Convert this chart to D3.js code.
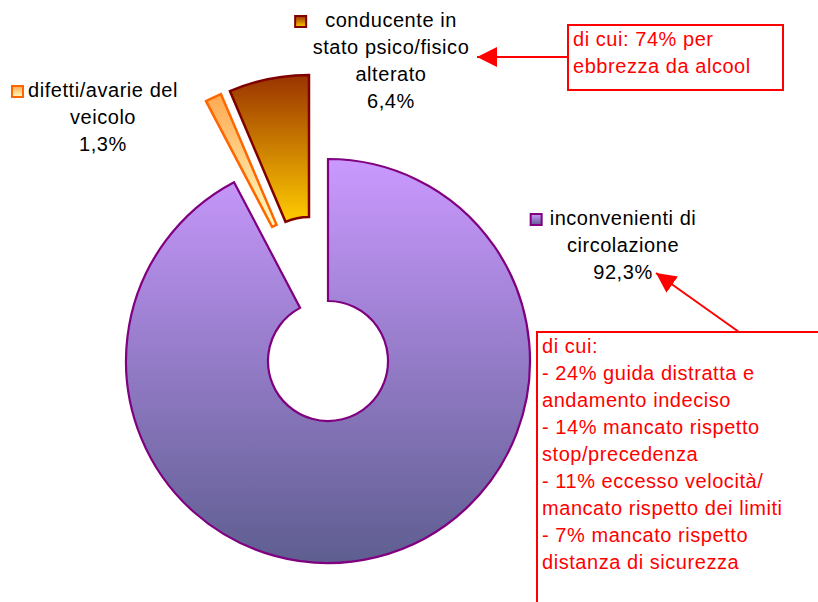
<!DOCTYPE html>
<html lang="it">
<head>
<meta charset="UTF-8">
<title>cause incidenti</title>
<script src="https://cdnjs.cloudflare.com/ajax/libs/d3/7.8.5/d3.min.js"></script>
<style>
    body { margin: 0; background: #fff; }
    .lbl { font-family: "Liberation Sans", Arial, sans-serif; font-size: 20px; letter-spacing: 0.55px; fill: #000; }
    .note { font-family: "Liberation Sans", Arial, sans-serif; font-size: 20px; letter-spacing: 0.55px; fill: #ff0000; }
</style>
</head>
<body>
<div id="chart"></div>
<script>
// data
var categories = ["inconvenienti di circolazione", "difetti/avarie del veicolo", "conducente in stato psico/fisico alterato"];
var values = [92.3, 1.3, 6.4];
var valueLabels = ["92,3%", "1,3%", "6,4%"];
var labelLines = [
    ["inconvenienti di", "circolazione"],
    ["difetti/avarie del", "veicolo"],
    ["conducente in", "stato psico/fisico", "alterato"]
];
var note1 = ["di cui: 74% per", "ebbrezza da alcool"];
var note2 = ["di cui:", "- 24% guida distratta e", "andamento indeciso", "- 14% mancato rispetto",
    "stop/precedenza", "- 11% eccesso velocità/", "mancato rispetto dei limiti", "- 7% mancato rispetto",
    "distanza di sicurezza"];

// styles
var grads = [
    { top: "#ca99ff", bottom: "#5e5e90", stroke: "#800080" },
    { top: "#ffa850", bottom: "#ffffc4", stroke: "#ff6600" },
    { top: "#993300", bottom: "#ffcc00", stroke: "#800000" }
];
// exploded slices: shift in px
var explode = [[0, 0], [-28, -81], [-19, -84]];
// label anchors (centre x, first baseline) and gap between key and text
var labelPos = [[623, 225], [103, 97], [391, 27]];
var keyGap = [7, 4, 18];

var width = 818, height = 602;
var cx = 328, cy = 361, R = 202, r = 60, lh = 27;

var svg = d3.select("#chart").append("svg")
    .attr("width", width)
    .attr("height", height);

var defs = svg.append("defs");
grads.forEach(function(g, i) {
    var lg = defs.append("linearGradient")
        .attr("id", "grad" + i)
        .attr("x1", 0).attr("y1", 0).attr("x2", 0).attr("y2", 1);
    lg.append("stop").attr("offset", "0%").attr("stop-color", g.top);
    lg.append("stop").attr("offset", "100%").attr("stop-color", g.bottom);
});

defs.append("marker")
    .attr("id", "arrow")
    .attr("viewBox", "0 0 10 10")
    .attr("refX", 10).attr("refY", 5)
    .attr("markerWidth", 10).attr("markerHeight", 10)
    .attr("markerUnits", "strokeWidth")
    .attr("orient", "auto")
    .append("path")
    .attr("d", "M0,0L10,5L0,10Z")
    .attr("fill", "#ff0000");

var pie = d3.pie().sort(null).value(function(d) { return d; });
var arc = d3.arc().innerRadius(r).outerRadius(R);
var arcs = pie(values);

var g = svg.append("g").attr("transform", "translate(" + cx + "," + cy + ")");

g.selectAll("path.slice")
    .data(arcs)
    .enter()
    .append("path")
    .attr("class", "slice")
    .attr("d", arc)
    .attr("transform", function(d, i) {
        return "translate(" + explode[i][0] + "," + explode[i][1] + ")";
    })
    .attr("fill", function(d, i) { return "url(#grad" + i + ")"; })
    .attr("stroke", function(d, i) { return grads[i].stroke; })
    .attr("stroke-width", function(d, i) { return i == 0 ? 2.2 : 2.5; })
    .attr("stroke-linejoin", "miter");

// labels
categories.forEach(function(c, i) {
    var lines = labelLines[i].concat([valueLabels[i]]);
    var t = svg.append("text")
        .attr("class", "lbl")
        .attr("text-anchor", "middle");
    lines.forEach(function(l, j) {
        t.append("tspan")
            .attr("x", labelPos[i][0])
            .attr("y", labelPos[i][1] + j * lh)
            .text(l);
    });
    // legend key in front of first line
    var w = t.select("tspan").node().getComputedTextLength();
    svg.append("rect")
        .attr("x", labelPos[i][0] - w / 2 - keyGap[i] - 12)
        .attr("y", labelPos[i][1] - 11)
        .attr("width", 11)
        .attr("height", 11)
        .attr("fill", "url(#grad" + i + ")")
        .attr("stroke", grads[i].stroke)
        .attr("stroke-width", 2);
});

// callouts
function callout(x, y, w, h, lines, from, to) {
    svg.append("line")
        .attr("x1", from[0]).attr("y1", from[1])
        .attr("x2", to[0]).attr("y2", to[1])
        .attr("stroke", "#ff0000")
        .attr("stroke-width", 2)
        .attr("marker-end", "url(#arrow)");
    svg.append("rect")
        .attr("x", x).attr("y", y)
        .attr("width", w).attr("height", h)
        .attr("fill", "#fff")
        .attr("stroke", "#ff0000")
        .attr("stroke-width", 2);
    var t = svg.append("text").attr("class", "note");
    lines.forEach(function(l, j) {
        t.append("tspan")
            .attr("x", x + 5)
            .attr("y", y + 21 + j * lh)
            .text(l);
    });
}

callout(568, 25, 215, 65, note1, [568, 57], [477, 57]);
callout(537, 332, 290, 280, note2, [739, 332], [656, 273]);
</script>
</body>
</html>
